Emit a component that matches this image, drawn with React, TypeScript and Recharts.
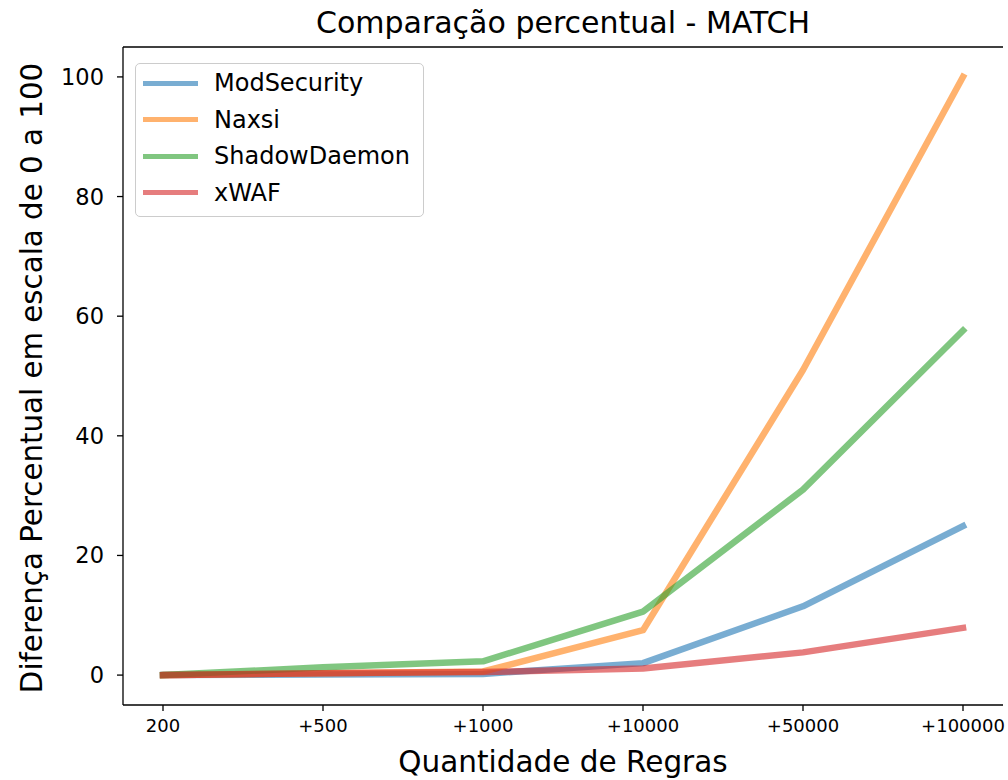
import { LineChart, Line, XAxis, YAxis, ReferenceLine } from 'recharts';

const categories = ['200', '+500', '+1000', '+10000', '+50000', '+100000'];
const modSecurity = [0, 0.1, 0.2, 2.0, 11.5, 24.9];
const naxsi = [0, 0.3, 0.6, 7.5, 51.0, 100.0];
const shadowDaemon = [0, 1.3, 2.3, 10.6, 31.0, 57.6];
const xwaf = [0, 0.3, 0.5, 1.1, 3.8, 7.9];
const yTicks = [0, 20, 40, 60, 80, 100];

const data = categories.map((cat, i) => ({
  cat,
  mod: modSecurity[i],
  naxsi: naxsi[i],
  shadow: shadowDaemon[i],
  xwaf: xwaf[i],
}));

const series = [
  { key: 'mod', name: 'ModSecurity', color: '#1f77b4' },
  { key: 'naxsi', name: 'Naxsi', color: '#ff7f0e' },
  { key: 'shadow', name: 'ShadowDaemon', color: '#2ca02c' },
  { key: 'xwaf', name: 'xWAF', color: '#d62728' },
];

const font = '"DejaVu Sans", sans-serif';

function LegendBox() {
  return (
    <div
      style={{
        position: 'absolute',
        left: 135,
        top: 63,
        width: 287,
        height: 151,
        border: '1px solid #cccccc',
        borderRadius: 5,
        background: 'rgba(255,255,255,0.8)',
        paddingTop: 1,
        fontFamily: font,
      }}
    >
      {series.map((s) => (
        <div key={s.key} style={{ height: 36.5, display: 'flex', alignItems: 'center' }}>
          <div style={{ marginLeft: 7, width: 55, height: 5, background: s.color, opacity: 0.6 }} />
          <span style={{ marginLeft: 16, fontSize: 24, color: '#000', lineHeight: 1 }}>{s.name}</span>
        </div>
      ))}
    </div>
  );
}

// rotated y-axis title, centred on the plot height
function YTitle(props: any) {
  const vb = props.viewBox || { x: 0, y: 47, width: 123, height: 658 };
  const x = vb.x + 42;
  const y = vb.y + vb.height / 2 + 2;
  return (
    <text
      x={x}
      y={y}
      transform={`rotate(-90, ${x}, ${y})`}
      textAnchor="middle"
      fill="#000"
      fontSize={29.3}
      fontFamily={font}
    >
      Diferença Percentual em escala de 0 a 100
    </text>
  );
}

export default function App() {
  return (
    <div style={{ position: 'absolute', left: 0, top: 0, width: 1008, height: 780, background: '#fff' }}>
      <div
        style={{
          position: 'absolute',
          left: 123,
          width: 880,
          top: 8,
          textAlign: 'center',
          fontFamily: font,
          fontSize: 30,
          lineHeight: 1,
          color: '#000',
        }}
      >
        Comparação percentual - MATCH
      </div>
      <LineChart width={1008} height={780} data={data} margin={{ top: 47, right: 5, bottom: 0, left: 0 }}>
        <XAxis
          dataKey="cat"
          height={75}
          padding={{ left: 40, right: 40 }}
          axisLine={{ stroke: '#000', strokeWidth: 1.3 }}
          tickLine={{ stroke: '#000', strokeWidth: 1.3 }}
          tickSize={6}
          tickMargin={8}
          tick={{ fill: '#000', fontSize: 18, fontFamily: font }}
          label={{
            value: 'Quantidade de Regras',
            position: 'insideBottom',
            offset: 8,
            style: { fill: '#000', fontSize: 29.5, fontFamily: font },
          }}
        />
        <YAxis
          width={123}
          domain={[-5, 105]}
          ticks={yTicks}
          allowDataOverflow
          axisLine={{ stroke: '#000', strokeWidth: 1.3 }}
          tickLine={{ stroke: '#000', strokeWidth: 1.3 }}
          tickSize={6}
          tickMargin={13}
          tick={{ fill: '#000', fontSize: 22.5, fontFamily: font }}
          label={{ content: (p: any) => <YTitle {...p} /> }}
        />
        <YAxis
          yAxisId="right"
          orientation="right"
          width={0}
          domain={[-5, 105]}
          tick={false}
          tickLine={false}
          axisLine={{ stroke: '#000', strokeWidth: 1.3 }}
        />
        <ReferenceLine y={105} stroke="#000" strokeWidth={1.3} ifOverflow="visible" />
        {series.map((s) => (
          <Line
            key={s.key}
            type="linear"
            dataKey={s.key}
            name={s.name}
            stroke={s.color}
            strokeOpacity={0.6}
            strokeWidth={6.5}
            strokeLinecap="square"
            strokeLinejoin="round"
            dot={false}
            activeDot={false}
            isAnimationActive={false}
          />
        ))}
      </LineChart>
      <LegendBox />
    </div>
  );
}
